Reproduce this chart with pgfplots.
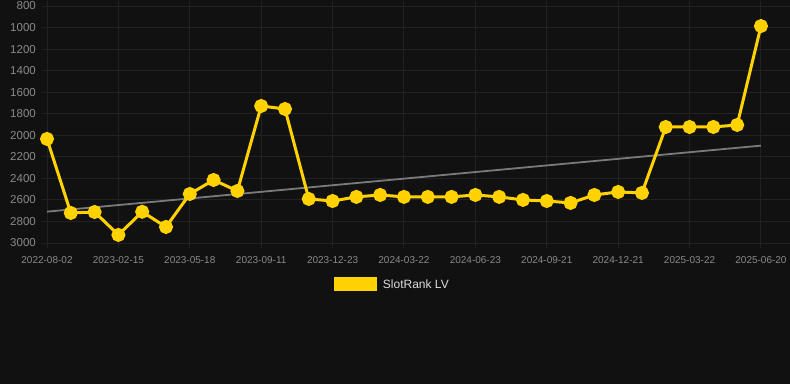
\documentclass[border=0pt]{standalone}
\usepackage{pgfplots}
\pgfplotsset{compat=1.18}
\usepackage{fontspec}
\setmainfont{Liberation Sans}
\definecolor{bg}{HTML}{111111}
\definecolor{gridc}{HTML}{222222}
\definecolor{tickc}{HTML}{8A8A8A}
\definecolor{yc}{HTML}{FFD200}
\definecolor{trendc}{HTML}{7A7A7A}
\definecolor{legc}{HTML}{DDDDDD}
\begin{document}
\begin{tikzpicture}[x=1pt,y=1pt]
\fill[bg, use as bounding box] (0,0) rectangle (790,384);
\begin{axis}[
  at={(47pt,141pt)}, anchor=south west,
  scale only axis, width=743pt, height=237pt,
  xmin=0, xmax=31.22,
  ymin=800, ymax=3000, y dir=reverse,
  ytick={800,1000,...,3000},
  xtick={0,3,...,30},
  xticklabels={2022-08-02,2023-02-15,2023-05-18,2023-09-11,2023-12-23,2024-03-22,2024-06-23,2024-09-21,2024-12-21,2025-03-22,2025-06-20},
  /pgf/number format/assume math mode=true,
  /pgf/number format/1000 sep={},
  axis line style={draw=none},
  tick align=outside,
  major tick length=5pt,
  tick style={gridc, line width=1pt},
  grid=major,
  major grid style={gridc, line width=1pt},
  yticklabel style={font=\fontsize{11.5}{13}\selectfont, text=tickc, inner sep=0pt, anchor=east, xshift=-6pt},
  xticklabel style={font=\fontsize{10}{12}\selectfont, text=tickc, inner sep=0pt, anchor=north, yshift=-8pt},
  legend style={at={(0.4635,-0.175)}, anchor=center, draw=none, fill=none,
    font=\fontsize{12}{14}\selectfont, text=legc, legend columns=1,
    nodes={inner sep=0pt}},
  legend cell align=left,
  legend image code/.code={\fill[yc] (0pt,-5.5pt) rectangle (40pt,5.5pt);},
]
\addplot[trendc, line width=1.8pt, forget plot] coordinates {(0,2709) (30,2096)};
\addplot[yc, line width=3pt, mark=*, mark size=5.5pt, mark options={fill=yc, draw=none}] coordinates {
(0,2034) (1,2721) (2,2712) (3,2925) (4,2710) (5,2851) (6,2545) (7,2415) (8,2517)
(9,1728) (10,1756) (11,2591) (12,2610) (13,2572) (14,2554) (15,2572) (16,2572)
(17,2572) (18,2554) (19,2572) (20,2600) (21,2610) (22,2628) (23,2554) (24,2526)
(25,2535) (26,1923) (27,1923) (28,1923) (29,1904) (30,986)
};
\addlegendentry{\hspace{6pt}SlotRank LV}
\end{axis}
\end{tikzpicture}
\end{document}
